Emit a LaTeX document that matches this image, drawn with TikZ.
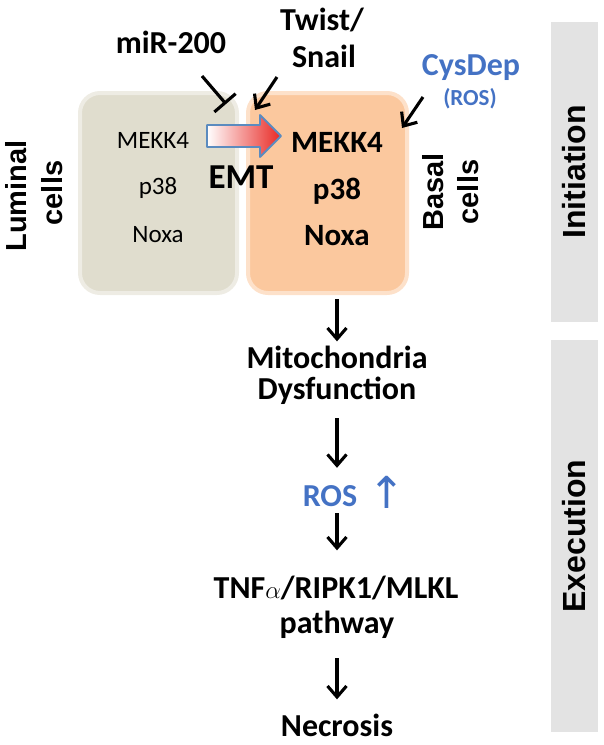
\documentclass[tikz,border=0pt]{standalone}
\usepackage{fontspec}
\usetikzlibrary{arrows.meta}
\newfontfamily\calfont{Carlito}
\newfontfamily\arialfont{Liberation Sans}
\newfontfamily\symfont{DejaVu Sans}
\definecolor{lumfill}{RGB}{224,221,206}
\definecolor{basfill}{RGB}{251,200,158}
\definecolor{blueT}{RGB}{68,114,196}
\definecolor{panelgray}{RGB}{227,227,227}
\definecolor{arrowblue}{RGB}{91,139,191}
\definecolor{emtred}{RGB}{232,40,36}
\begin{document}
\begin{tikzpicture}[x=1pt,y=-1pt,
  txt/.style={inner sep=0pt, anchor=base, font=\calfont\bfseries\fontsize{32}{34}\selectfont},
  smalltxt/.style={inner sep=0pt, anchor=base, font=\calfont\fontsize{25}{27}\selectfont},
  bigtxt/.style={inner sep=0pt, anchor=base, font=\calfont\bfseries\fontsize{31}{33}\selectfont},
  sidelbl/.style={inner sep=0pt, anchor=base, rotate=90, font=\arialfont\bfseries\fontsize{29}{31}\selectfont},
  panel/.style={fill=panelgray, rotate=90, minimum height=47pt, inner sep=0pt, font=\arialfont\bfseries\fontsize{32}{34}\selectfont},
  cellbox/.style={rounded corners=20pt, minimum height=200pt, inner sep=0pt, line width=4pt},
  arr/.style={line width=3.1pt, -{Straight Barb[length=11pt,width=19pt]}},
  inhib/.style={line width=3.1pt, -{Bar[width=28pt]}}]
\useasboundingbox (0,0) rectangle (604,745);

% side panels
\node[panel, minimum width=300pt] (init) at (574.5,172) {Initiation};
\node[panel, minimum width=392pt] (exec) at (574.5,536) {Execution};

% cell boxes
\node[cellbox, fill=lumfill, draw=lumfill!55!white, minimum width=157pt] (lum) at (158.5,193) {};
\node[cellbox, fill=basfill, draw=basfill!55!white, minimum width=159pt] (bas) at (327.5,193) {};

% side labels
\node[sidelbl] (lum1) at (27,196) {Luminal};
\node[sidelbl] (lum2) at (62,193) {cells};
\node[sidelbl] (bas1) at (443,192) {Basal};
\node[sidelbl] (bas2) at (478,192) {cells};

% luminal contents
\node[smalltxt] (lmekk) at (153,148) {MEKK4};
\node[smalltxt] (lp38) at (158,194) {p38};
\node[smalltxt] (lnoxa) at (158,242) {Noxa};

% basal contents
\node[bigtxt] (bmekk) at (337,152) {MEKK4};
\node[bigtxt] (bp38) at (337,199) {p38};
\node[bigtxt] (bnoxa) at (337,245) {Noxa};

% EMT arrow
\path[draw=arrowblue, line width=1.8pt, line join=round, left color=white, right color=emtred]
  (207,125) -- (260,125) -- (260,115) -- (281,136) -- (260,157) -- (260,147) -- (207,147) -- cycle;
\node[txt, font=\calfont\bfseries\fontsize{35}{37}\selectfont] (emt) at (241,188) {EMT};

% regulators
\node[txt] (mir) at (171,53) {miR-200};
\node[txt] (twist) at (322,30) {Twist/};
\node[txt] (snail) at (324,67) {Snail};
\node[txt, text=blueT] (cys) at (471,75) {CysDep};
\node[inner sep=0pt, anchor=base, text=blueT, font=\calfont\bfseries\fontsize{23}{25}\selectfont] (cysros) at (470,105) {(ROS)};

\coordinate (mirS) at (202,76);
\coordinate (mirE) at (226,104);
\coordinate (twS) at (277,77);
\coordinate (twE) at (255,110);
\coordinate (cyS) at (423,97);
\coordinate (cyE) at (402,128);
\draw[inhib] (mirS) -- (mirE);
\draw[arr] (twS) -- (twE);
\draw[arr] (cyS) -- (cyE);

% execution chain
\node[txt] (mito) at (337,368) {Mitochondria};
\node[txt] (dys) at (337,399) {Dysfunction};
\node[txt, text=blueT] (ros) at (330,506) {ROS};
\node[inner sep=0pt, anchor=base, text=blueT, font=\symfont\fontsize{44}{44}\selectfont] (up) at (387,508) {↑};
\node[txt] (tnf) at (336,598) {TNF$\alpha$/RIPK1/MLKL};
\node[txt] (path) at (337,633) {pathway};
\node[txt] (necro) at (337,736) {Necrosis};

\draw[arr, shorten <=4pt, shorten >=4pt] (mito |- bas.south) -- (mito.north);
\draw[arr, shorten <=14pt, shorten >=17pt] (dys.south) -- (ros.north -| dys);
\draw[arr, shorten <=7pt, shorten >=25pt] (ros.south -| dys) -- (tnf.north -| dys);
\draw[arr, shorten <=20pt, shorten >=14pt] (path.south) -- (necro.north);
\end{tikzpicture}
\end{document}
